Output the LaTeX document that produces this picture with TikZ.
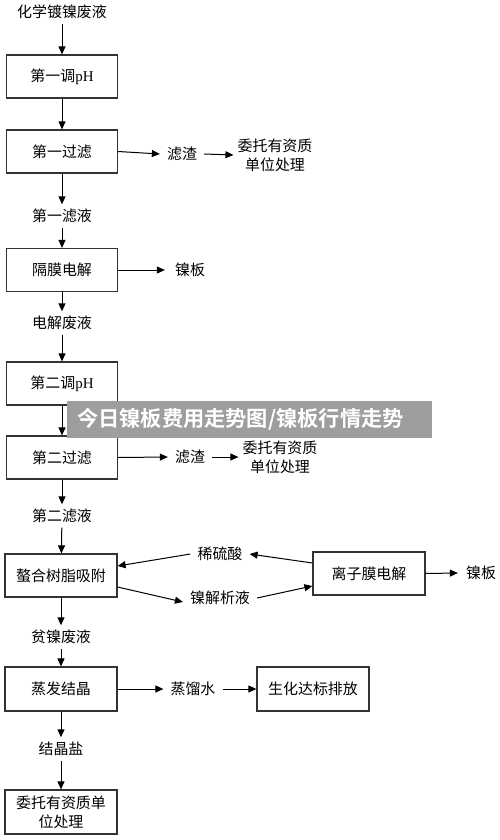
\documentclass[tikz,border=0pt]{standalone}
\usepackage{fontspec}
\setmainfont{Noto Sans CJK SC}
\newfontfamily\latinserif{Liberation Serif}
\newfontfamily\bannerfont{Noto Sans CJK SC}[BoldFont={* Bold}]
\usetikzlibrary{arrows.meta}
\definecolor{boxline}{HTML}{333333}
\definecolor{bannergray}{HTML}{9E9E9E}
\tikzset{
  procbox/.style={draw=boxline, line width=1.2bp, rectangle, minimum width=111bp, minimum height=43bp, inner sep=2bp, align=center, font=\fontsize{15}{19}\selectfont},
  lbl/.style={inner xsep=7bp, inner ysep=0bp, minimum height=23bp, align=center, font=\fontsize{15}{19}\selectfont},
  flow/.style={line width=1bp, -{Triangle[length=8bp,width=7bp]}}
}
\begin{document}
\begin{tikzpicture}[x=1bp, y=-1bp]
\useasboundingbox (0,0) rectangle (500,840);
% main column
\node[lbl] (src) at (62,12) {化学镀镍废液};
\node[procbox] (b1) at (62,76.5) {第一调{\latinserif pH}};
\node[procbox] (b2) at (62,151.5) {第一过滤};
\node[lbl] (r1) at (182,154) {滤渣};
\node[lbl, inner xsep=4bp] (w1) at (275,155) {委托有资质\\单位处理};
\node[lbl] (f1) at (62,216) {第一滤液};
\node[procbox] (b3) at (62,270) {隔膜电解};
\node[lbl, inner xsep=10bp] (ni1) at (190,270) {镍板};
\node[lbl] (e1) at (62,323) {电解废液};
\node[procbox] (b4) at (62,383.5) {第二调{\latinserif pH}};
\node[procbox] (b5) at (62,457.5) {第二过滤};
\node[lbl] (r2) at (190,457) {滤渣};
\node[lbl, inner xsep=4bp] (w2) at (280,457) {委托有资质\\单位处理};
\node[lbl] (f2) at (62,516) {第二滤液};
\node[procbox, minimum width=112bp] (b6) at (61,575.5) {螯合树脂吸附};
\node[lbl] (acid) at (220,554) {稀硫酸};
\node[lbl] (desorb) at (220,598) {镍解析液};
\node[procbox, minimum width=112bp] (b7) at (369,573.5) {离子膜电解};
\node[lbl, inner xsep=8bp] (ni2) at (481,573) {镍板};
\node[lbl] (p1) at (61,637) {贫镍废液};
\node[procbox, minimum width=112bp, minimum height=44bp] (b8) at (61,689) {蒸发结晶};
\node[lbl] (dw) at (193,689) {蒸馏水};
\node[procbox, minimum width=112bp, minimum height=44bp] (b9) at (313,689) {生化达标排放};
\node[lbl] (salt) at (61,749) {结晶盐};
\node[procbox, minimum width=112bp, minimum height=44bp] (b10) at (61,812) {委托有资质单\\位处理};
% connectors
\draw[flow] (src) -- (b1);
\draw[flow] (b1) -- (b2);
\draw[flow] (b2.east) -- (r1.west);
\draw[flow] (r1.east) -- (w1.west);
\draw[flow] (b2) -- (f1);
\draw[flow] (f1) -- (b3);
\draw[flow] (b3.east) -- (ni1.west);
\draw[flow] (b3) -- (e1);
\draw[flow] (e1) -- (b4);
\draw[flow] (b4) -- (b5);
\draw[flow] (b5.east) -- (r2.west);
\draw[flow] (r2.east) -- (w2.west);
\draw[flow] (b5) -- (f2);
\draw[flow] (f2) -- (b6);
\draw[flow] (acid.west) -- ([yshift=9.5bp]b6.east);
\draw[flow] ([yshift=10.5bp]b7.west) -- (acid.east);
\draw[flow] ([yshift=-11.5bp]b6.east) -- ([yshift=-4bp]desorb.west);
\draw[flow] (desorb.east) -- ([yshift=-12.5bp]b7.west);
\draw[flow] (b7.east) -- (ni2.west);
\draw[flow] (b6) -- (p1);
\draw[flow] (p1) -- (b8);
\draw[flow] (b8.east) -- (dw.west);
\draw[flow] (dw.east) -- (b9.west);
\draw[flow] (b8) -- (salt);
\draw[flow] (salt) -- (b10);
% banner overlay
\node[fill=bannergray, minimum width=365bp, minimum height=37bp, inner sep=0bp] (banner) at (249.5,419.5) {};
\node[anchor=west, inner sep=0bp, text=white, font=\bannerfont\bfseries\fontsize{21.3}{25}\selectfont] (bannertext) at (77,419) {今日镍板费用走势图/镍板行情走势};
\end{tikzpicture}
\end{document}
